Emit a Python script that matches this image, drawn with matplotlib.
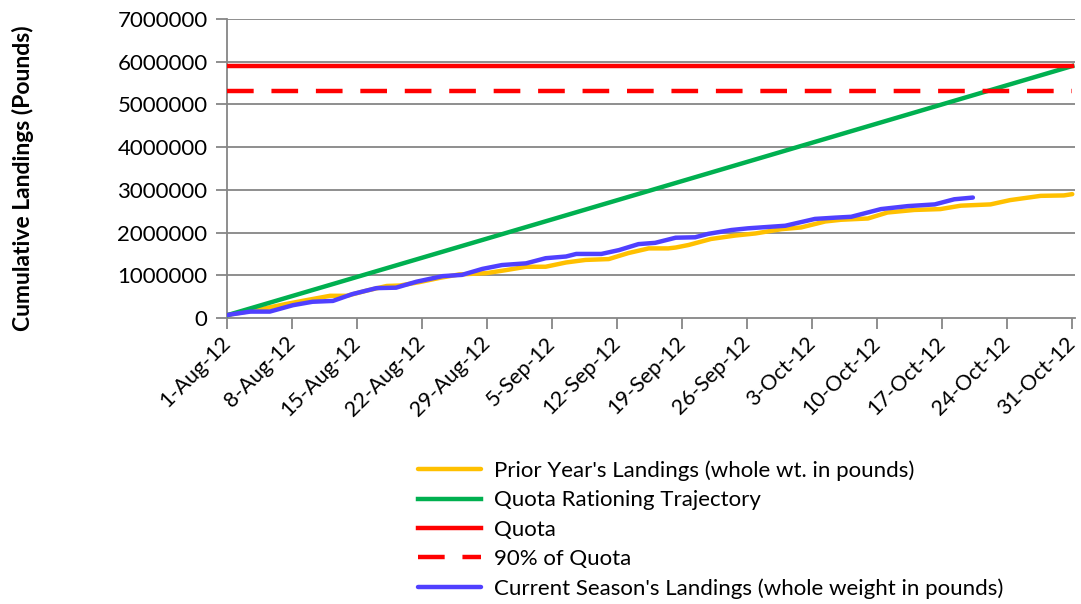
import numpy as np
import pandas as pd
import matplotlib
matplotlib.use('Agg')
import matplotlib.pyplot as plt
import matplotlib.dates as mdates

plt.rcParams['font.family'] = ['Lato', 'DejaVu Sans']

season_start = pd.Timestamp('2012-08-01')

# Prior year cumulative landings (day offset from 1-Aug, pounds)
prior_days = [0, 3.5, 6.4, 8.6, 11.1, 12.9, 15.0, 17.2, 18.6, 20.7, 22.9, 25.0, 27.9,
              30.0, 32.2, 34.3, 36.5, 38.6, 41.1, 43.2, 45.4, 47.5, 48.3, 49.7, 52.1,
              54.7, 56.9, 59.7, 61.8, 64.4, 66.1, 69.0, 71.1, 74.0, 76.8, 79.0, 82.2,
              84.3, 87.6, 90.1, 91]
prior_vals = [70000, 200000, 330000, 420000, 520000, 520000, 640000, 750000, 760000,
              840000, 940000, 1020000, 1050000, 1120000, 1200000, 1200000, 1300000,
              1360000, 1380000, 1520000, 1630000, 1630000, 1650000, 1710000, 1850000,
              1930000, 1980000, 2080000, 2120000, 2260000, 2300000, 2330000, 2470000,
              2530000, 2550000, 2630000, 2660000, 2760000, 2860000, 2870000, 2900000]

# Current season cumulative landings
current_days = [0, 2.5, 4.6, 7.1, 9.2, 11.4, 13.5, 16.1, 18.2, 20.4, 23.2, 25.3, 27.5,
                29.6, 32.2, 34.3, 36.5, 37.6, 40.3, 42.2, 44.3, 46.1, 48.3, 50.4, 51.8,
                54.3, 56.1, 60.1, 63.3, 65.5, 67.2, 70.4, 73.3, 76.2, 78.3, 80.3]
current_vals = [70000, 150000, 150000, 300000, 380000, 400000, 560000, 700000, 710000,
                850000, 980000, 1010000, 1150000, 1240000, 1280000, 1400000, 1440000,
                1500000, 1500000, 1590000, 1730000, 1760000, 1880000, 1890000, 1970000,
                2060000, 2100000, 2160000, 2320000, 2350000, 2370000, 2550000, 2620000,
                2660000, 2780000, 2820000]

# Quota rationing trajectory endpoints
trajectory_days = [0, 91]
trajectory_vals = [64000, 5900000]

quota = 5900000
quota_90 = 0.9 * quota

labels = ["Prior Year's Landings (whole wt. in pounds)",
          "Quota Rationing Trajectory",
          "Quota",
          "90% of Quota",
          "Current Season's Landings (whole weight in pounds)"]


def to_dates(days):
    return [season_start + pd.Timedelta(days=float(d)) for d in days]


end_date = season_start + pd.Timedelta(days=91)

fig = plt.figure(figsize=(10.81, 6.04), dpi=100)
ax = fig.add_axes([0.21, 0.4735, 0.7845, 0.495])

grid_col = '#868686'
for v in range(1000000, 7000001, 1000000):
    ax.axhline(v, color=grid_col, lw=1.3, zorder=1)

l_prior, = ax.plot(to_dates(prior_days), prior_vals, color='#FFC000', lw=3.2,
                   solid_capstyle='round', zorder=3)
l_traj, = ax.plot(to_dates(trajectory_days), trajectory_vals, color='#00B050', lw=3.2,
                  zorder=3)
l_quota, = ax.plot([season_start, end_date], [quota, quota], color='#FF0000', lw=3.2,
                   zorder=3)
l_q90, = ax.plot([season_start, end_date], [quota_90, quota_90], color='#FF0000',
                 lw=3.2, dashes=(6, 4), zorder=3)
l_cur, = ax.plot(to_dates(current_days), current_vals, color='#5040FF', lw=3.2,
                 solid_capstyle='round', zorder=4)

ax.set_xlim(season_start, end_date + pd.Timedelta(days=0.3))
ax.set_ylim(0, 7000000)
ax.set_yticks(range(0, 7000001, 1000000))
ax.set_yticklabels([str(v) for v in range(0, 7000001, 1000000)], fontsize=16)

xticks = [season_start + pd.Timedelta(days=7 * i) for i in range(14)]
ax.set_xticks(xticks)
ax.set_xticklabels([f"{t.day}-{t.strftime('%b')}-12" for t in xticks], rotation=45,
                   ha='right', va='center', rotation_mode='anchor', fontsize=15.5)

for s in ['top', 'right']:
    ax.spines[s].set_visible(False)
for s in ['left', 'bottom']:
    ax.spines[s].set_color(grid_col)
    ax.spines[s].set_linewidth(1.3)
ax.tick_params(axis='both', direction='out', length=8, width=1.3, color=grid_col,
               pad=6)
ax.tick_params(axis='x', pad=8)

fig.text(0.021, 0.705, 'Cumulative Landings (Pounds)', rotation=90, ha='center',
         va='center', fontsize=16.5, fontweight='bold')

fig.legend([l_prior, l_traj, l_quota, l_q90, l_cur], labels, loc='upper left',
           bbox_to_anchor=(0.376, 0.256), frameon=False, fontsize=16,
           handlelength=2.85, handletextpad=0.6, labelspacing=0.42, borderpad=0)

fig.savefig('out.png', dpi=100)
